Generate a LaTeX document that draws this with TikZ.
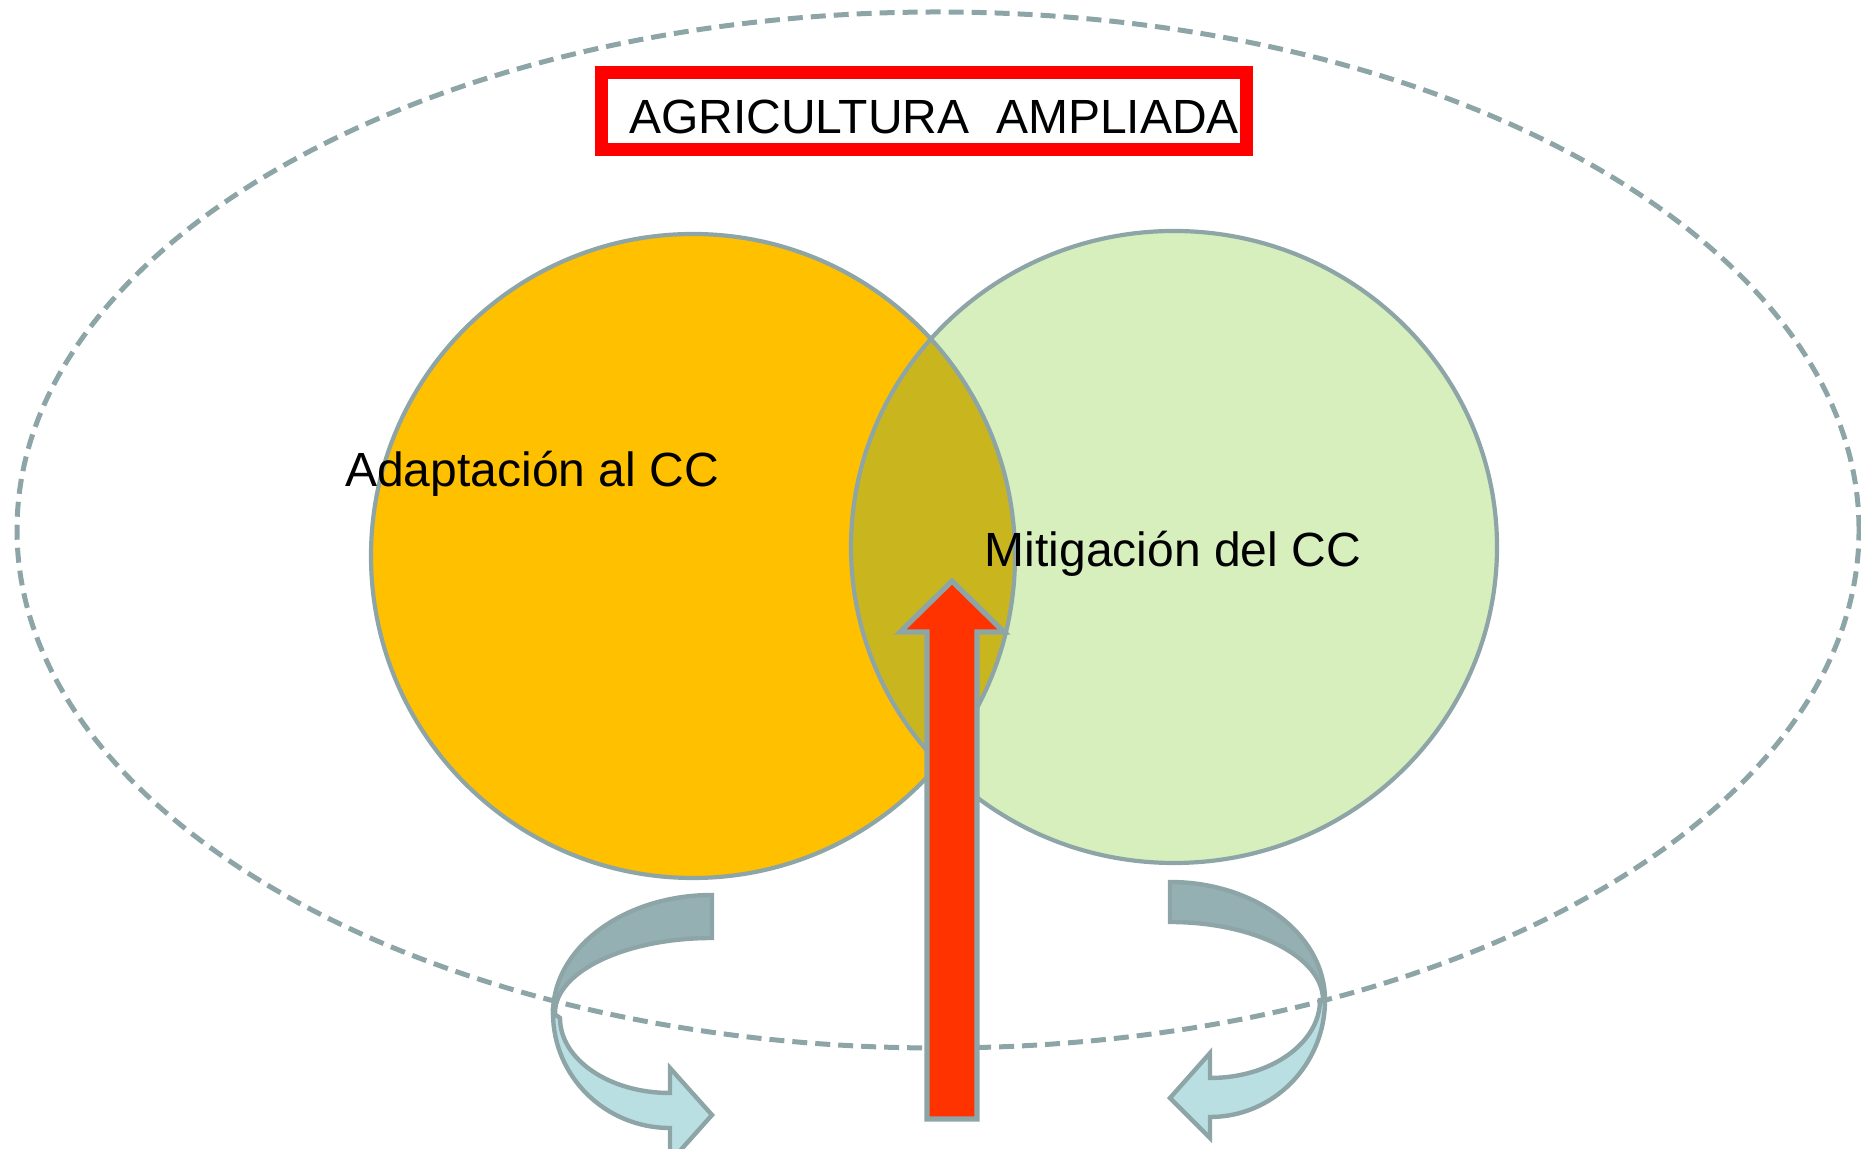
\documentclass[tikz,border=0pt]{standalone}
\usepackage{fontspec}
\setmainfont{Liberation Sans}
\definecolor{outl}{HTML}{8EA5A7}
\definecolor{orangefill}{HTML}{FFC000}
\definecolor{greenfill}{HTML}{D7EEBD}
\definecolor{overlapfill}{HTML}{C9B61E}
\definecolor{darkband}{HTML}{95B0B3}
\definecolor{lightband}{HTML}{B9DFE3}
\definecolor{redarrow}{HTML}{FF3300}
\definecolor{titlered}{HTML}{FF0000}
\begin{document}
\begin{tikzpicture}[x=0.5pt,y=0.5pt,
  band/.style={draw=outl,line width=2.2pt,line join=miter},
  circline/.style={draw=outl,line width=2.1pt},
  label/.style={font=\fontsize{24pt}{28pt}\selectfont,anchor=base,inner sep=0pt},
  outerell/.style={draw=outl,line width=2.5pt,dash pattern=on 7.5pt off 4pt}]
\useasboundingbox (0,0) rectangle (1861,1149);
% left curved arrow
\draw[band,fill=darkband] (712,254) arc[start angle=90,end angle=180,x radius=159,y radius=118]
  -- (555,136) arc[start angle=180,end angle=90,x radius=157,y radius=75] -- cycle;
\draw[band,fill=lightband] (553,136) arc[start angle=180,end angle=270,x radius=117,y radius=115]
  -- (670,-13) -- (712,34) -- (670,81) -- (670,56)
  arc[start angle=270,end angle=180,x radius=110,y radius=75] -- cycle;
% right curved arrow
\draw[band,fill=darkband] (1170,267) arc[start angle=90,end angle=0,x radius=155,y radius=118]
  -- (1323,149) arc[start angle=0,end angle=90,x radius=153,y radius=78] -- cycle;
\draw[band,fill=lightband] (1325,149) arc[start angle=0,end angle=-90,x radius=115,y radius=117]
  -- (1210,11) -- (1170,51) -- (1210,96) -- (1210,71)
  arc[start angle=-90,end angle=0,x radius=110,y radius=78] -- cycle;
% outer dashed ellipse
\draw[outerell] (938,619) ellipse[x radius=921,y radius=518];
% circles
\fill[orangefill] (693,593) circle[radius=322];
\fill[greenfill] (1174,602) ellipse[x radius=323,y radius=316];
\begin{scope}
  \clip (693,593) circle[radius=322];
  \fill[overlapfill] (1174,602) ellipse[x radius=323,y radius=316];
\end{scope}
\draw[circline] (693,593) circle[radius=322];
\draw[circline] (1174,602) ellipse[x radius=323,y radius=316];
% title
\draw[titlered,line width=6.5pt] (601.5,1076.5) rectangle (1246.5,999.5);
\node[label] (title) at (934,1015) {AGRICULTURA\ \ AMPLIADA};
% labels
\node[label] (adapt) at (532,662) {Adaptación al CC};
\node[label] (mitig) at (1173,582) {Mitigación del CC};
% red arrow
\draw[draw=outl,line width=2.6pt,fill=redarrow,line join=miter]
  (927,30) -- (927,517) -- (900,517) -- (952,568) -- (1004,517) -- (977,517) -- (977,30) -- cycle;
\end{tikzpicture}
\end{document}
